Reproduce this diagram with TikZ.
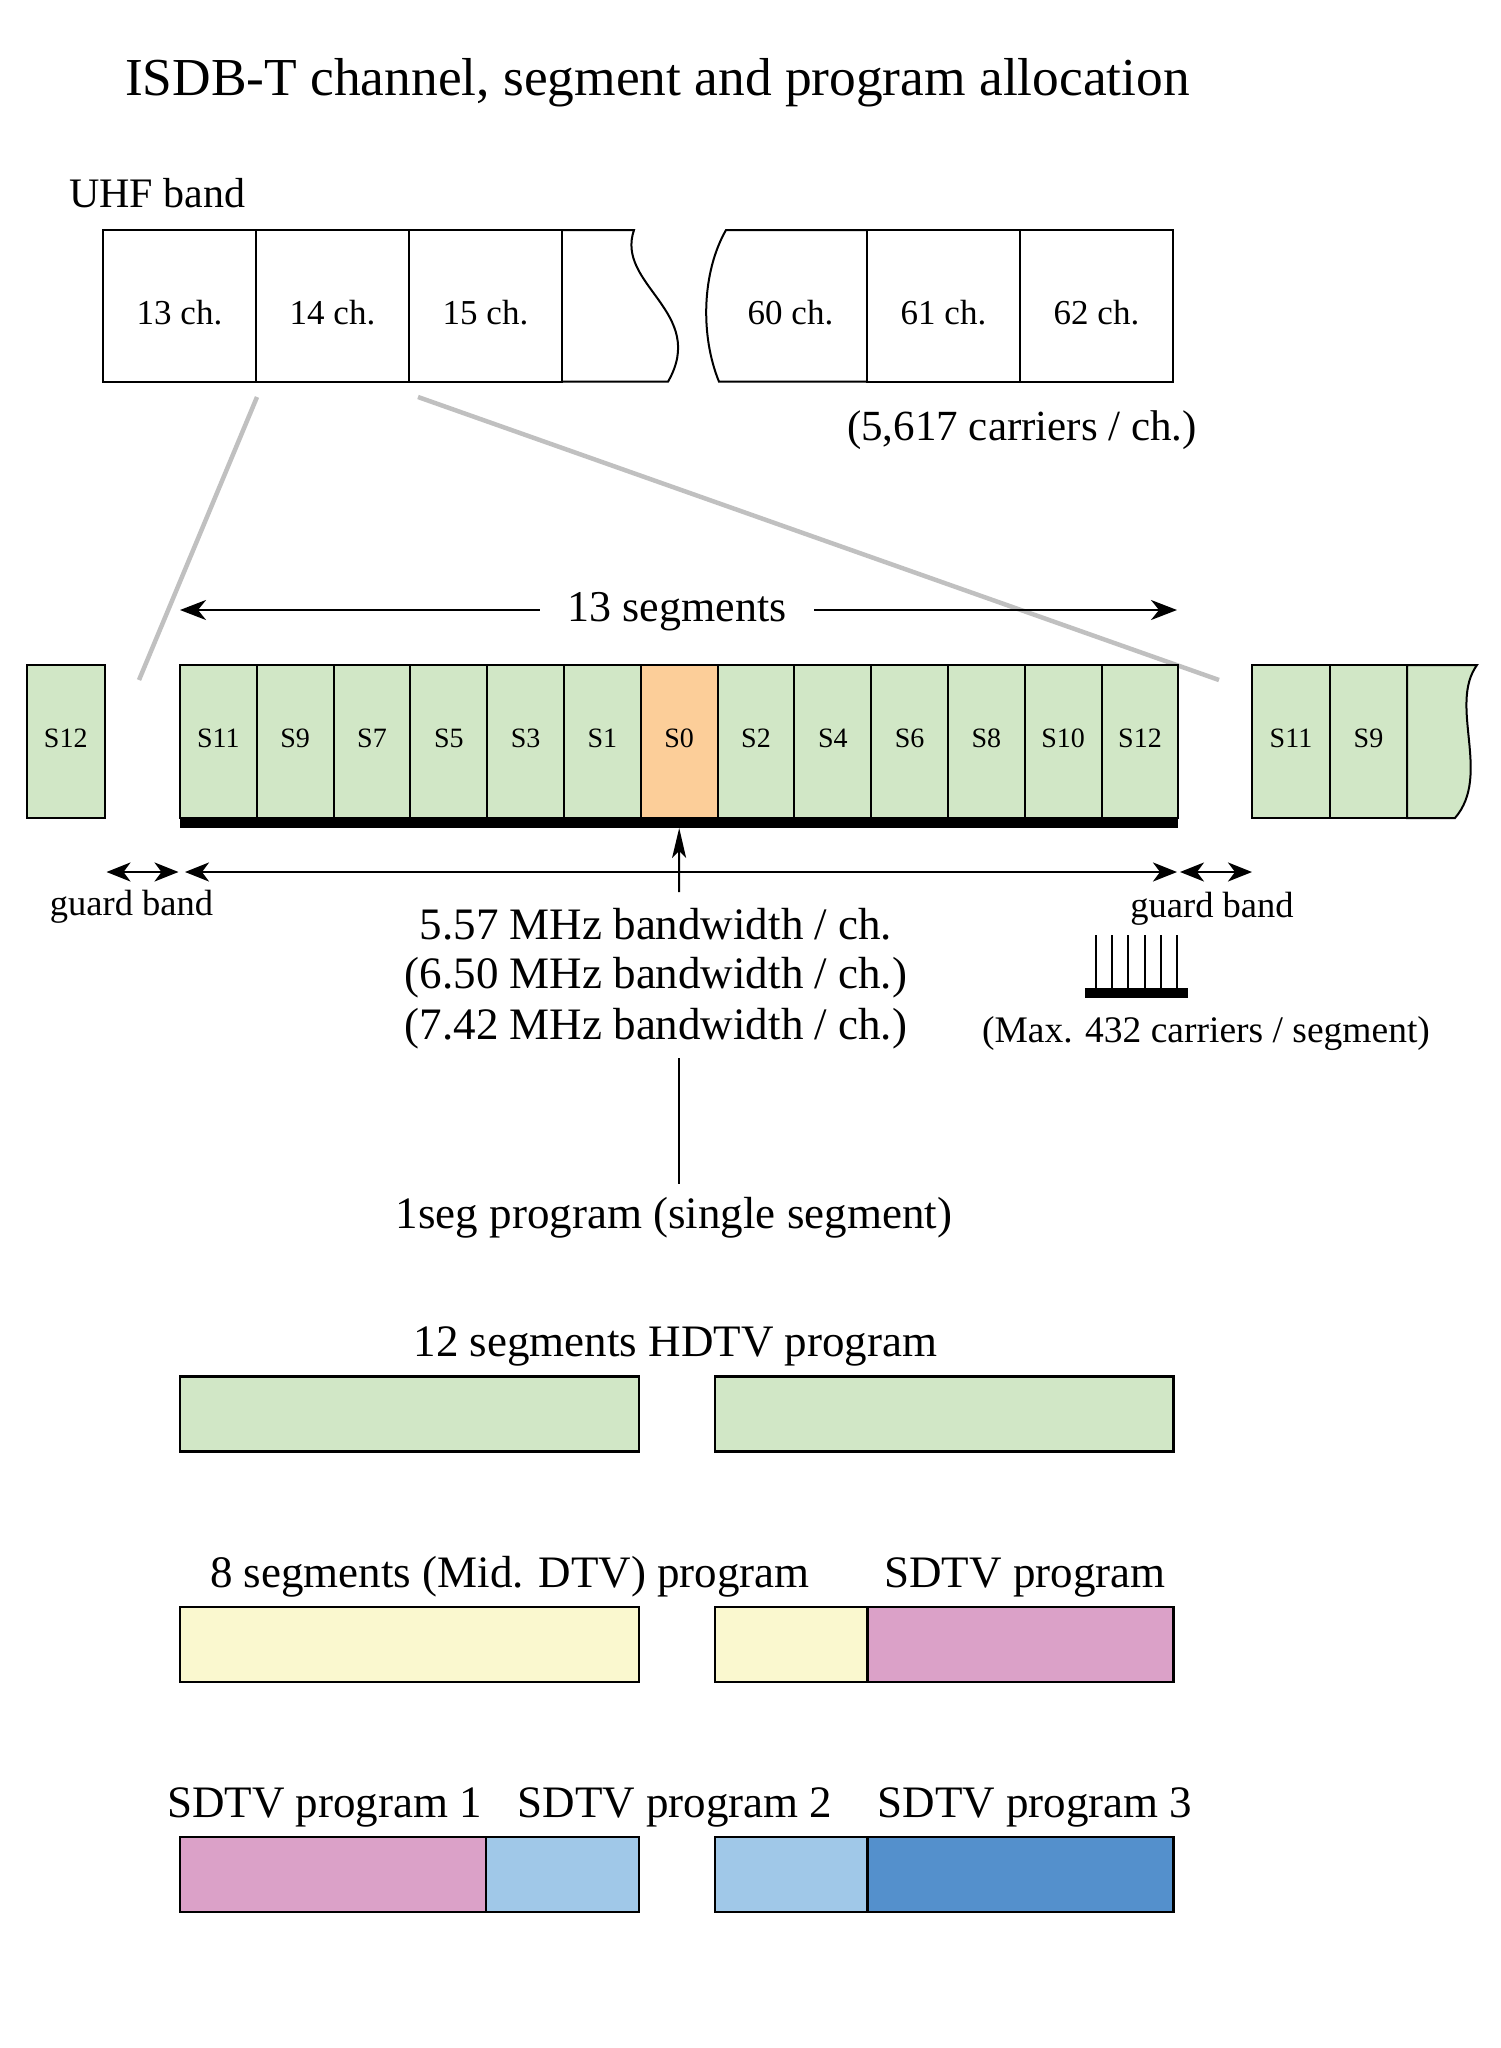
\documentclass[tikz,border=0pt]{standalone}
\usepackage{fontspec}
\setmainfont{Liberation Serif}
\usetikzlibrary{arrows.meta,calc}
\definecolor{segG}{HTML}{D1E7C6}
\definecolor{segO}{HTML}{FCCE99}
\definecolor{progY}{HTML}{FAF8CF}
\definecolor{progP}{HTML}{DBA1C8}
\definecolor{progLB}{HTML}{A0C8E8}
\definecolor{progB}{HTML}{5490CC}
\definecolor{zoomG}{HTML}{C0C0C0}
\newcommand{\fsz}[1]{\fontsize{#1}{#1}\selectfont}
\begin{document}
\begin{tikzpicture}[x=1pt,y=-1pt,
  every node/.style={inner sep=0pt, outer sep=0pt},
  chbox/.style={draw, line width=2pt, minimum width=153pt, minimum height=151.7pt, font=\fsz{35}, text height=37pt, text depth=0pt},
  chlabel/.style={font=\fsz{35}, text height=37pt, text depth=0pt},
  segbox/.style={draw, line width=2pt, fill=segG, minimum width=76.8pt, minimum height=153pt, font=\fsz{28}, text height=18pt, text depth=7pt},
  prog/.style={draw, line width=2.5pt, minimum height=75pt, anchor=north west},
  biglbl/.style={anchor=base, font=\fsz{45}},
  zoomline/.style={draw=zoomG, line width=4.5pt},
  arr/.style={line width=2.5pt, -{Stealth[length=26pt,width=20pt,inset=8pt]}},
  darr/.style={line width=2.5pt, {Stealth[length=24pt,width=19pt,inset=7pt]}-{Stealth[length=24pt,width=19pt,inset=7pt]}},
  varr/.style={line width=2pt, -{Stealth[length=30pt,width=14pt,inset=7pt]}},
  thin/.style={line width=2pt}
]
\useasboundingbox (0,0) rectangle (1500,2048);

% title
\node[anchor=base, font=\fsz{53.4}] (title) at (657.5,95) {ISDB-T channel, segment and program allocation};

% UHF band
\node[anchor=base west, font=\fsz{42}] (uhf) at (69,207) {UHF band};

% zoom lines (background)
\coordinate (zA1) at (257,397);
\coordinate (zA2) at (139,680);
\coordinate (zB1) at (418,397);
\coordinate (zB2) at (1219,680);
\draw[zoomline] (zA1) -- (zA2);
\draw[zoomline] (zB1) -- (zB2);

\node[chbox] (ch13) at (179.5,305.85) {13 ch.};
\node[chbox] (ch14) at (332.5,305.85) {14 ch.};
\node[chbox] (ch15) at (485.5,305.85) {15 ch.};
\draw[thin] (562,230) -- (634,230) .. controls (615,285) and (708,312) .. (668,381.7) -- (562,381.7);
\draw[thin] (867,230) -- (726,230) .. controls (702,272) and (700,335) .. (719,381.7) -- (867,381.7);
\node[chlabel] (ch60) at (790.5,305.85) {60 ch.};
\node[chbox] (ch61) at (943.5,305.85) {61 ch.};
\node[chbox] (ch62) at (1096.5,305.85) {62 ch.};

\node[anchor=base, font=\fsz{43}] (carr) at (1022,440) {(5,617 carriers / ch.)};

% 13 segments label and arrows
\node[font=\fsz{44}, text height=31pt, text depth=9pt, inner xsep=28pt] (seg13) at (677,610) {13 segments};
\coordinate (segL) at (180,610);
\coordinate (segR) at (1177,610);
\draw[arr] (seg13.west) -- (segL);
\draw[arr] (seg13.east) -- (segR);

% segments
\foreach \lbl/\col [count=\i from 0] in {11/segG,9/segG,7/segG,5/segG,3/segG,1/segG,0/segO,2/segG,4/segG,6/segG,8/segG,10/segG,12/segG} {
  \node[segbox, fill=\col] (m\lbl) at ({180+76.8*(\i+0.5)},741.5) {S\lbl};
}
\node[fill=black, minimum width=998.4pt, minimum height=10pt, anchor=north west] (bar) at (180,818) {};

\node[segbox, minimum width=77.5pt] (lS12) at (65.75,741.5) {S12};
\node[segbox, minimum width=78pt] (rS11) at (1291,741.5) {S11};
\node[segbox, minimum width=77pt] (rS9) at (1368.5,741.5) {S9};
\draw[thin, fill=segG] (1407,665) -- (1477,665) .. controls (1448,705) and (1492,775) .. (1455,818) -- (1407,818) -- cycle;

% bandwidth arrows
\coordinate (bwL) at (185,872);
\coordinate (bwR) at (1177,872);
\draw[darr] (bwL) -- (bwR);
\coordinate (gL1) at (106.5,872);
\coordinate (gL2) at (178.5,872);
\draw[darr] (gL1) -- (gL2);
\coordinate (gR1) at (1180,872);
\coordinate (gR2) at (1252,872);
\draw[darr] (gR1) -- (gR2);

\node[anchor=base, font=\fsz{36.5}] (gbL) at (131.5,915) {guard band};
\node[anchor=base, font=\fsz{36.5}] (gbR) at (1212,917) {guard band};

% vertical arrow to S0
\coordinate (vtop) at (679,892);
\draw[varr] (vtop) -- (m0.south |- bar.south);

\node[biglbl] (bw1) at (656,939) {5.57 MHz bandwidth / ch.};
\node[biglbl] (bw2) at (656,988) {(6.50 MHz bandwidth / ch.)};
\node[biglbl] (bw3) at (656,1039) {(7.42 MHz bandwidth / ch.)};

\node[biglbl, text height=31pt, inner ysep=13pt] (oneseg) at (674,1228) {1seg program (single segment)};
\coordinate (vbot) at (679,1058);
\draw[thin] (vbot) -- (vbot |- oneseg.north);

% carrier comb
\node[fill=black, minimum width=103.3pt, minimum height=10.6pt, anchor=north west] (comb) at (1085,987.7) {};
\foreach \k in {0,...,5} {
  \draw[thin] ($(comb.north west)+({10.7+16.3*\k},0)$) -- ++(0,-52.7);
}
\node[anchor=base, font=\fsz{37.5}] (maxc) at (1206,1042) {(Max. 432 carriers / segment)};

% program rows
\node[biglbl] (l12) at (675.5,1356.7) {12 segments HDTV program};
\node[prog, fill=segG, minimum width=459pt] (hd1) at (180,1376.5) {};
\node[prog, fill=segG, minimum width=458.5pt] (hd2) at (715,1376.5) {};

\node[biglbl] (l8) at (510,1587) {8 segments (Mid. DTV) program};
\node[biglbl] (lsd) at (1025,1587) {SDTV program};
\node[prog, fill=progY, minimum width=459pt] (md1) at (180,1607) {};
\node[prog, fill=progY, minimum width=152.6pt] (md2) at (715,1607) {};
\node[prog, fill=progP, minimum width=305.9pt] (sd) at (867.6,1607) {};

\node[biglbl] (lp1) at (324.6,1817) {SDTV program 1};
\node[biglbl] (lp2) at (675,1817) {SDTV program 2};
\node[biglbl] (lp3) at (1035,1817) {SDTV program 3};
\node[prog, fill=progP, minimum width=306pt] (p1) at (180,1837) {};
\node[prog, fill=progLB, minimum width=153pt] (p2a) at (486,1837) {};
\node[prog, fill=progLB, minimum width=152.6pt] (p2b) at (715,1837) {};
\node[prog, fill=progB, minimum width=305.9pt] (p3) at (867.6,1837) {};
\end{tikzpicture}
\end{document}
